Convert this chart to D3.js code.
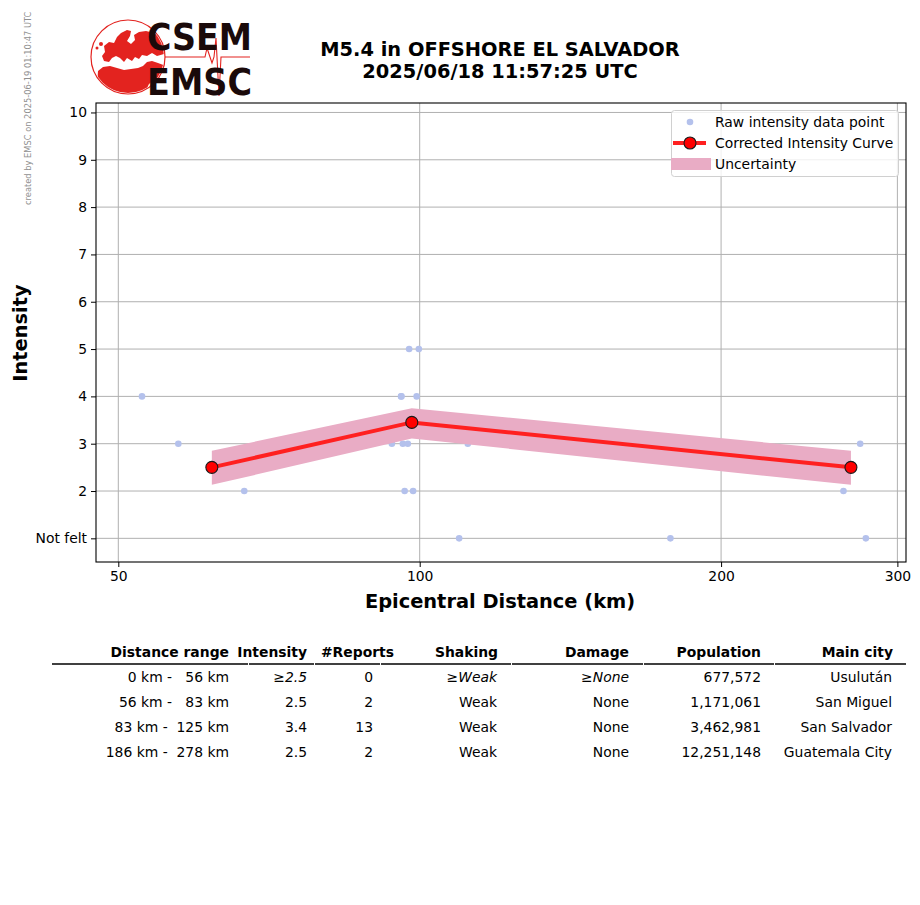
<!DOCTYPE html>
<html><head><meta charset="utf-8">
<script src="https://cdn.jsdelivr.net/npm/d3@7"></script>
<style>body{margin:0;background:#fff;} svg{display:block;font-family:"DejaVu Sans",sans-serif;}</style>
</head><body>
<script>
// ---- data ----
const titleLines = ["M5.4 in OFFSHORE EL SALVADOR", "2025/06/18 11:57:25 UTC"];
const creditText = "created by EMSC on 2025-06-19 01:10:47 UTC";
const rawDist = [52.8, 57.4, 66.8, 83.6, 95.8, 95.9, 99.3, 93.8, 96.2, 97.3, 96.6, 98.5, 97.6, 99.8, 109.5, 111.7, 178, 265, 275.4, 279];
const rawInt  = [4,    3,    2,    3,    4,    4,    4,    3,    3,    3,    2,    2,    5,    5,    1,     3,     1,   2,   3,     1];
const curveDist = [62.0, 98.2, 269.6];
const curveInt  = [2.5, 3.45, 2.5];
const bandUpper = [2.85, 3.75, 2.85];
const bandLower = [2.13, 3.11, 2.13];
const xTicks = [50, 100, 200, 300];
const yTicks = [1, 2, 3, 4, 5, 6, 7, 8, 9, 10];
const yTickLabels = ["Not felt", "2", "3", "4", "5", "6", "7", "8", "9", "10"];
const legendLabels = ["Raw intensity data point", "Corrected Intensity Curve", "Uncertainty"];
const tableHeaders = ["Distance range", "Intensity", "#Reports", "Shaking", "Damage", "Population", "Main city"];
const tableRows = [
  ["0 km -   56 km", "\u22652.5", "0", "\u2265Weak", "\u2265None", "677,572", "Usulut\u00e1n"],
  ["56 km -   83 km", "2.5", "2", "Weak", "None", "1,171,061", "San Miguel"],
  ["83 km -  125 km", "3.4", "13", "Weak", "None", "3,462,981", "San Salvador"],
  ["186 km -  278 km", "2.5", "2", "Weak", "None", "12,251,148", "Guatemala City"]
];
const italicRow = [false, true, false, true, true, false, false];

// ---- layout ----
const W = 920, H = 905;
const svg = d3.select("body").append("svg").attr("width", W).attr("height", H);
const L = 96, R = 906, T = 103, B = 562;
const x = d3.scaleLog().domain([47.5, 306]).range([L, R]);
const y = d3.scaleLinear().domain([0.5, 10.2]).range([B, T]);
const FS = 13.9;

// credit
svg.append("text").attr("transform", "translate(31,205) rotate(-90)")
  .attr("font-size", 8.3).attr("fill", "#909090").text(creditText);

// logo
const logo = svg.append("g");
const cx = 128, cy = 57, cr = 37;
logo.append("defs").append("clipPath").attr("id", "globe").append("circle").attr("cx", cx).attr("cy", cy).attr("r", cr - 1);
const mg = logo.append("g").attr("clip-path", "url(#globe)");
const red = "#e3231f";
// Europe
mg.append("path").attr("fill", red).attr("d",
  "M104,46 L109,42 L114,43 L117,37 L121,33 L127,30 L131,31 L130,36 L127,41 L131,44 L135,40 L134,35 L139,32 L146,31 L154,33 L163,38 L166,46 L164,54 L157,56 L152,53 L147,56 L142,55 L139,59 L135,57 L132,61 L127,58 L124,62 L120,58 L116,56 L112,58 L109,62 L104,61 L102,56 L105,52 Z");
// Africa + middle east
mg.append("path").attr("fill", red).attr("d",
  "M98,71 L103,67 L110,66 L117,68 L124,70 L131,69 L138,68 L143,66 L147,62 L152,61 L158,63 L166,66 L166,78 L160,82 L154,80 L149,84 L146,90 L138,95 L122,96 L106,93 L97,85 Z");
// small islands
mg.append("circle").attr("cx", 101).attr("cy", 44).attr("r", 2).attr("fill", red);
mg.append("circle").attr("cx", 97).attr("cy", 48).attr("r", 1.5).attr("fill", red);
logo.append("circle").attr("cx", cx).attr("cy", cy).attr("r", cr).attr("fill", "none").attr("stroke", red).attr("stroke-width", 1.2);
logo.append("path").attr("fill", "none").attr("stroke", red).attr("stroke-width", 1.1)
  .attr("d", "M165,57 L205,57 L207,48 L210,57 L212,63 L214,57 L216,38 L219,96 L221,57 L250,57");
logo.append("text").attr("x", 147).attr("y", 50).attr("font-size", 37).attr("font-weight", "bold")
  .attr("textLength", 105).attr("lengthAdjust", "spacingAndGlyphs").attr("fill", "#1a0a0a").text("CSEM");
logo.append("text").attr("x", 147).attr("y", 95).attr("font-size", 37).attr("font-weight", "bold")
  .attr("textLength", 105).attr("lengthAdjust", "spacingAndGlyphs").attr("fill", "#1a0a0a").text("EMSC");

// title
svg.selectAll(".title").data(titleLines).enter().append("text")
  .attr("x", 500).attr("y", (d, i) => 56 + i * 22).attr("text-anchor", "middle")
  .attr("font-size", 19.4).attr("font-weight", "bold").text(d => d);

// grid
const grid = svg.append("g").attr("stroke", "#b0b0b0").attr("stroke-width", 1);
xTicks.forEach(t => grid.append("line").attr("x1", x(t)).attr("x2", x(t)).attr("y1", T).attr("y2", B));
yTicks.forEach(t => grid.append("line").attr("x1", L).attr("x2", R).attr("y1", y(t)).attr("y2", y(t)));

// raw points
svg.append("g").selectAll("circle").data(rawDist).enter().append("circle")
  .attr("cx", d => x(d)).attr("cy", (d, i) => y(rawInt[i])).attr("r", 3.3).attr("fill", "#b4c1ec");

// band
const bandData = curveDist.map((d, i) => ({d, u: bandUpper[i], l: bandLower[i]}));
svg.append("path").datum(bandData).attr("fill", "#e9acc5")
  .attr("d", d3.area().x(p => x(p.d)).y0(p => y(p.l)).y1(p => y(p.u)));

// curve
const cData = curveDist.map((d, i) => ({d, v: curveInt[i]}));
svg.append("path").datum(cData).attr("fill", "none").attr("stroke", "#ff2020").attr("stroke-width", 4)
  .attr("d", d3.line().x(p => x(p.d)).y(p => y(p.v)));
svg.append("g").selectAll("circle").data(cData).enter().append("circle")
  .attr("cx", p => x(p.d)).attr("cy", p => y(p.v)).attr("r", 6)
  .attr("fill", "#ff0000").attr("stroke", "#1a1a1a").attr("stroke-width", 1.1);

// axes
const xAxis = svg.append("g").attr("transform", `translate(0,${B})`)
  .call(d3.axisBottom(x).tickValues(xTicks).tickFormat(d3.format("d")).tickSizeOuter(0).tickSize(5).tickPadding(4));
const yAxis = svg.append("g").attr("transform", `translate(${L},0)`)
  .call(d3.axisLeft(y).tickValues(yTicks).tickFormat((d, i) => yTickLabels[i]).tickSizeOuter(0).tickSize(5).tickPadding(4));
[xAxis, yAxis].forEach(a => {
  a.selectAll("text").attr("font-size", FS).attr("font-family", "DejaVu Sans").attr("fill", "#000");
  a.selectAll(".tick line").attr("stroke", "#000");
  a.select(".domain").remove();
});
svg.append("rect").attr("x", L).attr("y", T).attr("width", R - L).attr("height", B - T)
  .attr("fill", "none").attr("stroke", "#000").attr("stroke-width", 1.1);

// axis labels
svg.append("text").attr("x", 500).attr("y", 608).attr("text-anchor", "middle")
  .attr("font-size", 19.4).attr("font-weight", "bold").text("Epicentral Distance (km)");
svg.append("text").attr("transform", "translate(27,333) rotate(-90)").attr("text-anchor", "middle")
  .attr("font-size", 19.4).attr("font-weight", "bold").text("Intensity");

// legend
const lg = svg.append("g");
lg.append("rect").attr("x", 671.5).attr("y", 110.5).attr("width", 227).attr("height", 66).attr("rx", 3)
  .attr("fill", "#fff").attr("fill-opacity", 0.8).attr("stroke", "#d0d0d0");
lg.append("circle").attr("cx", 690).attr("cy", 122).attr("r", 3.3).attr("fill", "#b4c1ec");
lg.append("line").attr("x1", 673).attr("x2", 706).attr("y1", 143).attr("y2", 143).attr("stroke", "#ff2020").attr("stroke-width", 4);
lg.append("circle").attr("cx", 690).attr("cy", 143).attr("r", 6).attr("fill", "#ff0000").attr("stroke", "#1a1a1a").attr("stroke-width", 1.1);
lg.append("rect").attr("x", 671).attr("y", 158).attr("width", 40).attr("height", 12).attr("fill", "#e9acc5");
lg.selectAll(".lt").data(legendLabels).enter().append("text")
  .attr("x", 715).attr("y", (d, i) => 127 + i * 21).attr("font-size", FS).text(d => d);

// table
const colRight = [229, 307, 394, 498, 629, 761, 893];
const valRight = [229, 307, 373, 497, 629, 761, 892];
const segs = [52, 248, 314, 380, 511, 643, 774, 906];
const tb = svg.append("g");
tableHeaders.forEach((h, i) => tb.append("text").attr("x", colRight[i]).attr("y", 657)
  .attr("text-anchor", "end").attr("font-size", FS).attr("font-weight", "bold").text(h));
for (let i = 0; i < segs.length - 1; i++) {
  tb.append("line").attr("x1", segs[i] + (i ? 1 : 0)).attr("x2", segs[i + 1]).attr("y1", 664).attr("y2", 664)
    .attr("stroke", "#000").attr("stroke-width", 1.5);
}
tableRows.forEach((row, r) => {
  row.forEach((v, c) => {
    tb.append("text").attr("x", valRight[c]).attr("y", 682 + r * 25).attr("text-anchor", "end")
      .attr("font-size", FS).attr("font-style", (r === 0 && italicRow[c]) ? "italic" : "normal")
      .style("white-space", "pre").attr("xml:space", "preserve").text(v);
  });
});
</script>
</body></html>
